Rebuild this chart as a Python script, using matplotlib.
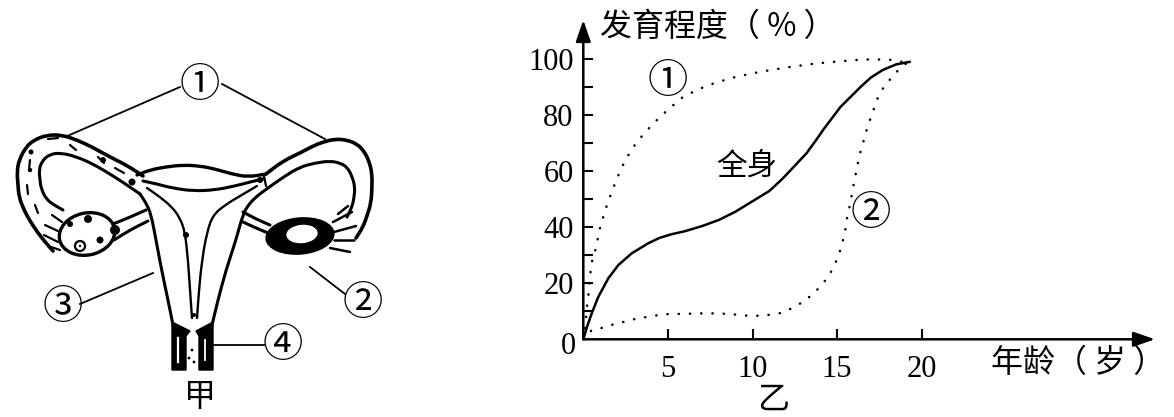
import matplotlib
matplotlib.use("Agg")
import matplotlib.pyplot as plt
import numpy as np
from matplotlib.path import Path
from matplotlib.patches import PathPatch, Ellipse, Polygon, Circle

plt.rcParams["font.family"] = ["Noto Sans CJK SC", "DejaVu Sans"]

# 乙: development (%) against age (years)
body_age = [0, 0.25, 0.5, 0.89, 1.48, 2.07, 2.86, 3.84, 4.5, 5.2, 6.0, 7.0, 8.0, 9.0,
            10.0, 11.0, 11.8, 12.5, 13.2, 13.8, 14.2, 15.2, 16.4, 17.0, 17.7, 18.5, 19.3]
body_val = [0, 5, 9.3, 15.2, 21.8, 26.5, 30.7, 34.3, 36.2, 37.5, 38.6, 40.4, 42.6, 45.6,
            49.3, 53, 57.5, 62, 66.5, 71.5, 75, 83, 90.2, 93.5, 96.2, 98.2, 99.1]

curve1_age = [0, 0.1, 0.2, 0.3, 0.44, 0.53, 0.69, 0.8, 1.0, 1.4, 1.8, 2.2, 2.6, 3.0, 3.6,
              4.3, 5.0, 5.9, 6.8, 7.7, 8.8, 10.0, 11.2, 12.4, 13.6, 14.8, 16.0, 17.1,
              18.2, 19.1]
curve1_val = [0, 3.3, 10.5, 15.8, 24.8, 28.3, 31.3, 34.3, 40.2, 48, 54.5, 60.5, 65.2, 69,
              73.6, 78, 82, 86.6, 89.3, 91.4, 93.4, 95, 96.3, 97.4, 98.4, 99.1, 99.7, 100,
              99.8, 98.8]

curve2_age = [0, 0.5, 1.0, 1.48, 1.97, 2.46, 2.95, 3.45, 3.9, 4.5, 5.0, 6.0, 7.3, 8.5, 9.4,
              10.0, 10.8, 11.6, 12.3, 13.0, 13.6, 14.0, 14.5, 14.8, 15.1, 15.3, 15.5, 15.6,
              15.8, 15.9, 16.1, 16.3, 16.55, 16.8, 17.1, 17.35, 17.7, 18.1, 18.6, 19.1]
curve2_val = [0, 3.3, 3.9, 4.75, 5.7, 6.3, 7.1, 7.7, 8.1, 8.7, 9.0, 9.1, 9.3, 9.1, 8.6,
              8.3, 8.6, 9.3, 11, 13.4, 16.3, 18.8, 22.5, 26, 30, 34.3, 39.5, 43.8,
              49, 53, 59, 65.2, 70.5, 75.9, 81, 85.5, 89.5, 92.6, 96, 98.6]

x_ticks = [5, 10, 15, 20]
y_ticks = [20, 40, 60, 80, 100]
y_minor = [10, 30, 50, 70, 90]

W, H = 1174, 417
# pixel geometry of the chart (origin, px per unit)
X0, Y0, PX_X, PX_Y = 583.3, 339.3, 16.92, 2.8
X_END, Y_END = 1155, 20

SERIF = "Liberation Serif"


def smooth_path(pts):
    pts = np.asarray(pts, float)
    mids = (pts[:-1] + pts[1:]) / 2
    verts = [pts[0], mids[0]]
    codes = [Path.MOVETO, Path.LINETO]
    for i in range(1, len(pts) - 1):
        verts += [pts[i], mids[i]]
        codes += [Path.CURVE3, Path.CURVE3]
    verts.append(pts[-1])
    codes.append(Path.LINETO)
    return Path(verts, codes)


def stroke(ax, pts, lw=1.8):
    ax.add_patch(PathPatch(smooth_path(pts), fill=False, lw=lw, ec="k",
                           capstyle="round", joinstyle="round"))


def draw_organ(ax):
    # fallopian tubes
    stroke(ax, [(143, 176), (128, 166), (110, 157), (92, 147), (77, 140), (62, 135), (47, 135),
                (34, 140), (26, 147), (19, 160), (17, 172), (18, 185), (19, 197), (24, 210),
                (30, 221), (38, 233), (46, 243), (53, 251)], lw=2.6)
    stroke(ax, [(140, 194), (124, 183), (110, 174), (93, 164), (77, 157), (62, 153), (50, 154),
                (42, 161), (39, 170), (40, 180), (41, 188), (46, 199), (54, 205), (63, 210)], lw=2.2)
    stroke(ax, [(266, 174), (283, 161), (300, 153), (313, 146), (323, 142), (335, 139), (347, 140),
                (357, 144), (364, 151), (369, 161), (372, 173), (372, 188), (371, 203), (367, 216),
                (363, 227), (356, 238)], lw=2.6)
    stroke(ax, [(268, 188), (285, 176), (300, 167), (315, 163), (330, 161), (340, 163), (347, 167),
                (352, 176), (355, 187), (354, 198), (352, 207), (347, 217)], lw=2.2)
    # texture marks inside the left tube
    for seg in [[(48, 139), (58, 138)], [(30, 160), (29, 170)], [(70, 145), (76, 150)],
                [(98, 157), (104, 163)], [(115, 168), (124, 173)], [(27, 185), (28, 194)],
                [(35, 205), (38, 213)]]:
        stroke(ax, seg, lw=1.6)
    ax.add_patch(Circle((31, 152), 2.5, fc="k"))
    ax.add_patch(Circle((30, 170), 2.2, fc="k"))
    ax.add_patch(Circle((132, 182), 3.5, fc="k"))
    ax.add_patch(Circle((103, 160), 3, fc="k"))
    ax.add_patch(Circle((260, 180), 3, fc="k"))
    stroke(ax, [(264, 176), (266, 186)], lw=1.6)

    # uterus body
    stroke(ax, [(137, 175), (150, 170), (165, 167), (183, 165), (200, 166), (215, 169),
                (232, 174), (248, 177), (266, 174)], lw=2.4)
    stroke(ax, [(143, 181), (157, 184), (172, 188), (193, 191), (215, 190), (235, 186),
                (250, 182), (263, 179)], lw=2.2)
    stroke(ax, [(140, 194), (146, 203), (151, 214), (156, 240), (162, 272), (168, 300),
                (173, 325)], lw=2.2)
    stroke(ax, [(268, 188), (257, 196), (249, 204), (243, 214), (236, 240), (226, 270),
                (218, 300), (212, 325)], lw=2.2)
    stroke(ax, [(147, 188), (160, 197), (172, 207), (180, 218), (185, 232), (188, 260),
                (190, 290), (192, 318)], lw=1.7)
    stroke(ax, [(257, 186), (240, 196), (225, 205), (213, 215), (207, 232), (202, 260),
                (199, 290), (197, 318)], lw=1.7)
    ax.add_patch(Circle((186, 235), 3, fc="k"))
    ax.add_patch(Circle((194, 315), 2, fc="k"))

    # cervix / vagina (4)
    ax.add_patch(Polygon([(172, 322), (190, 331), (186, 336), (186, 370), (172, 370)],
                         closed=True, fc="k", ec="k", lw=1))
    ax.add_patch(Polygon([(213, 322), (196, 331), (199, 336), (199, 370), (213, 370)],
                         closed=True, fc="k", ec="k", lw=1))
    ax.plot([178, 178], [338, 362], color="w", lw=1.6)
    ax.plot([205, 205], [340, 360], color="w", lw=1.3)
    for cx, cy in [(189, 358), (194, 362), (192, 350)]:
        ax.add_patch(Circle((cx, cy), 1.4, fc="k"))

    # left ovary and ligament
    ax.add_patch(Ellipse((87, 234), 56, 42, angle=-12, fc="w", ec="k", lw=2.4))
    stroke(ax, [(113, 224), (128, 218), (146, 210)], lw=2.2)
    stroke(ax, [(114, 240), (130, 230), (148, 221)], lw=2.2)
    ax.add_patch(Circle((115, 230), 5, fc="k"))
    ax.add_patch(Circle((88, 219), 4, fc="k"))
    ax.add_patch(Circle((100, 240), 3.5, fc="k"))
    ax.add_patch(Circle((80, 246), 5, fc="w", ec="k", lw=1.6))
    ax.add_patch(Circle((80, 246), 1.2, fc="k"))
    ax.add_patch(Circle((70, 224), 3, fc="k"))
    for seg in [[(45, 225), (60, 232)], [(44, 235), (58, 242)], [(48, 246), (60, 250)],
                [(52, 215), (62, 222)]]:
        stroke(ax, seg, lw=1.6)

    # right ovary (dark) and ligament
    stroke(ax, [(243, 212), (256, 219), (270, 225)], lw=2.2)
    stroke(ax, [(243, 222), (256, 228), (268, 233)], lw=2.2)
    ax.add_patch(Ellipse((300, 236), 68, 36, angle=-5, fc="k", ec="k"))
    ax.add_patch(Ellipse((302, 234), 30, 17, angle=-5, fc="w", ec="w"))
    for seg in [[(333, 222), (352, 212)], [(334, 232), (356, 226)], [(334, 240), (354, 240)],
                [(330, 248), (350, 252)], [(338, 214), (348, 206)]]:
        stroke(ax, seg, lw=1.8)

    # leader lines and labels
    for a, b in [((180, 87), (65, 137)), ((222, 84), (325, 139)), ((345, 294), (310, 267)),
                 ((80, 304), (153, 273)), ((264, 345), (210, 345))]:
        ax.plot([a[0], b[0]], [a[1], b[1]], color="k", lw=1.3)
    for txt, x, y in [("①", 200, 85), ("②", 363, 303), ("③", 63, 307), ("④", 283, 345)]:
        ax.text(x, y, txt, ha="center", va="center", fontsize=29)
    ax.text(200, 397, "甲", ha="center", va="center", fontsize=23)


fig = plt.figure(figsize=(W / 100, H / 100), dpi=100)
fig.patch.set_facecolor("white")

ax0 = fig.add_axes([0, 0, 1, 1])
ax0.set_xlim(0, W)
ax0.set_ylim(H, 0)
ax0.axis("off")
draw_organ(ax0)

ax = fig.add_axes([X0 / W, (H - Y0) / H, (X_END - X0) / W, (Y0 - Y_END) / H])
ax.patch.set_alpha(0)
ax.set_xlim(0, (X_END - X0) / PX_X)
ax.set_ylim(0, (Y0 - Y_END) / PX_Y)
for s in ax.spines.values():
    s.set_visible(False)

arrow = dict(arrowstyle="-|>,head_length=1.3,head_width=0.45", lw=1.8, color="k",
             shrinkA=0, shrinkB=0)
ax.annotate("", xy=(1, 0), xytext=(0, 0), xycoords="axes fraction", arrowprops=arrow)
ax.annotate("", xy=(0, 1), xytext=(0, 0), xycoords="axes fraction", arrowprops=arrow)

ax.plot(body_age, body_val, color="k", lw=1.8, solid_capstyle="round",
        solid_joinstyle="round")
ax.plot(curve1_age, curve1_val, color="k", lw=1.8, linestyle=(0, (0.1, 4.4)),
        dash_capstyle="round")
ax.plot(curve2_age, curve2_val, color="k", lw=1.8, linestyle=(0, (0.1, 4.4)),
        dash_capstyle="round")

ax.set_xticks(x_ticks, labels=[str(t) for t in x_ticks], fontfamily=SERIF, fontsize=22)
ax.set_yticks(y_ticks, labels=[str(t) for t in y_ticks], fontfamily=SERIF, fontsize=22)
ax.set_yticks(y_minor, minor=True)
ax.tick_params(which="both", direction="in", length=7, width=1.5, color="k")
ax.tick_params(axis="x", pad=11)
ax.tick_params(axis="y", pad=7)
ax.text(-0.9, -2.75, "0", ha="center", va="center", fontsize=22, fontfamily=SERIF)

ax.text(1.0, 111.5, "发育程度（ % ）", ha="left", va="center", fontsize=23, clip_on=False)
ax.text(24.1, -8.6, "年龄（ 岁 ）", ha="left", va="center", fontsize=23, clip_on=False)
ax.text(11.2, -21.7, "乙", ha="center", va="center", fontsize=23, clip_on=False)
ax.text(9.65, 62, "全身", ha="center", va="center", fontsize=22)
ax.text(5.0, 92, "①", ha="center", va="center", fontsize=29)
ax.text(17.0, 45, "②", ha="center", va="center", fontsize=29)

fig.savefig("out.png", dpi=100, facecolor="white")
